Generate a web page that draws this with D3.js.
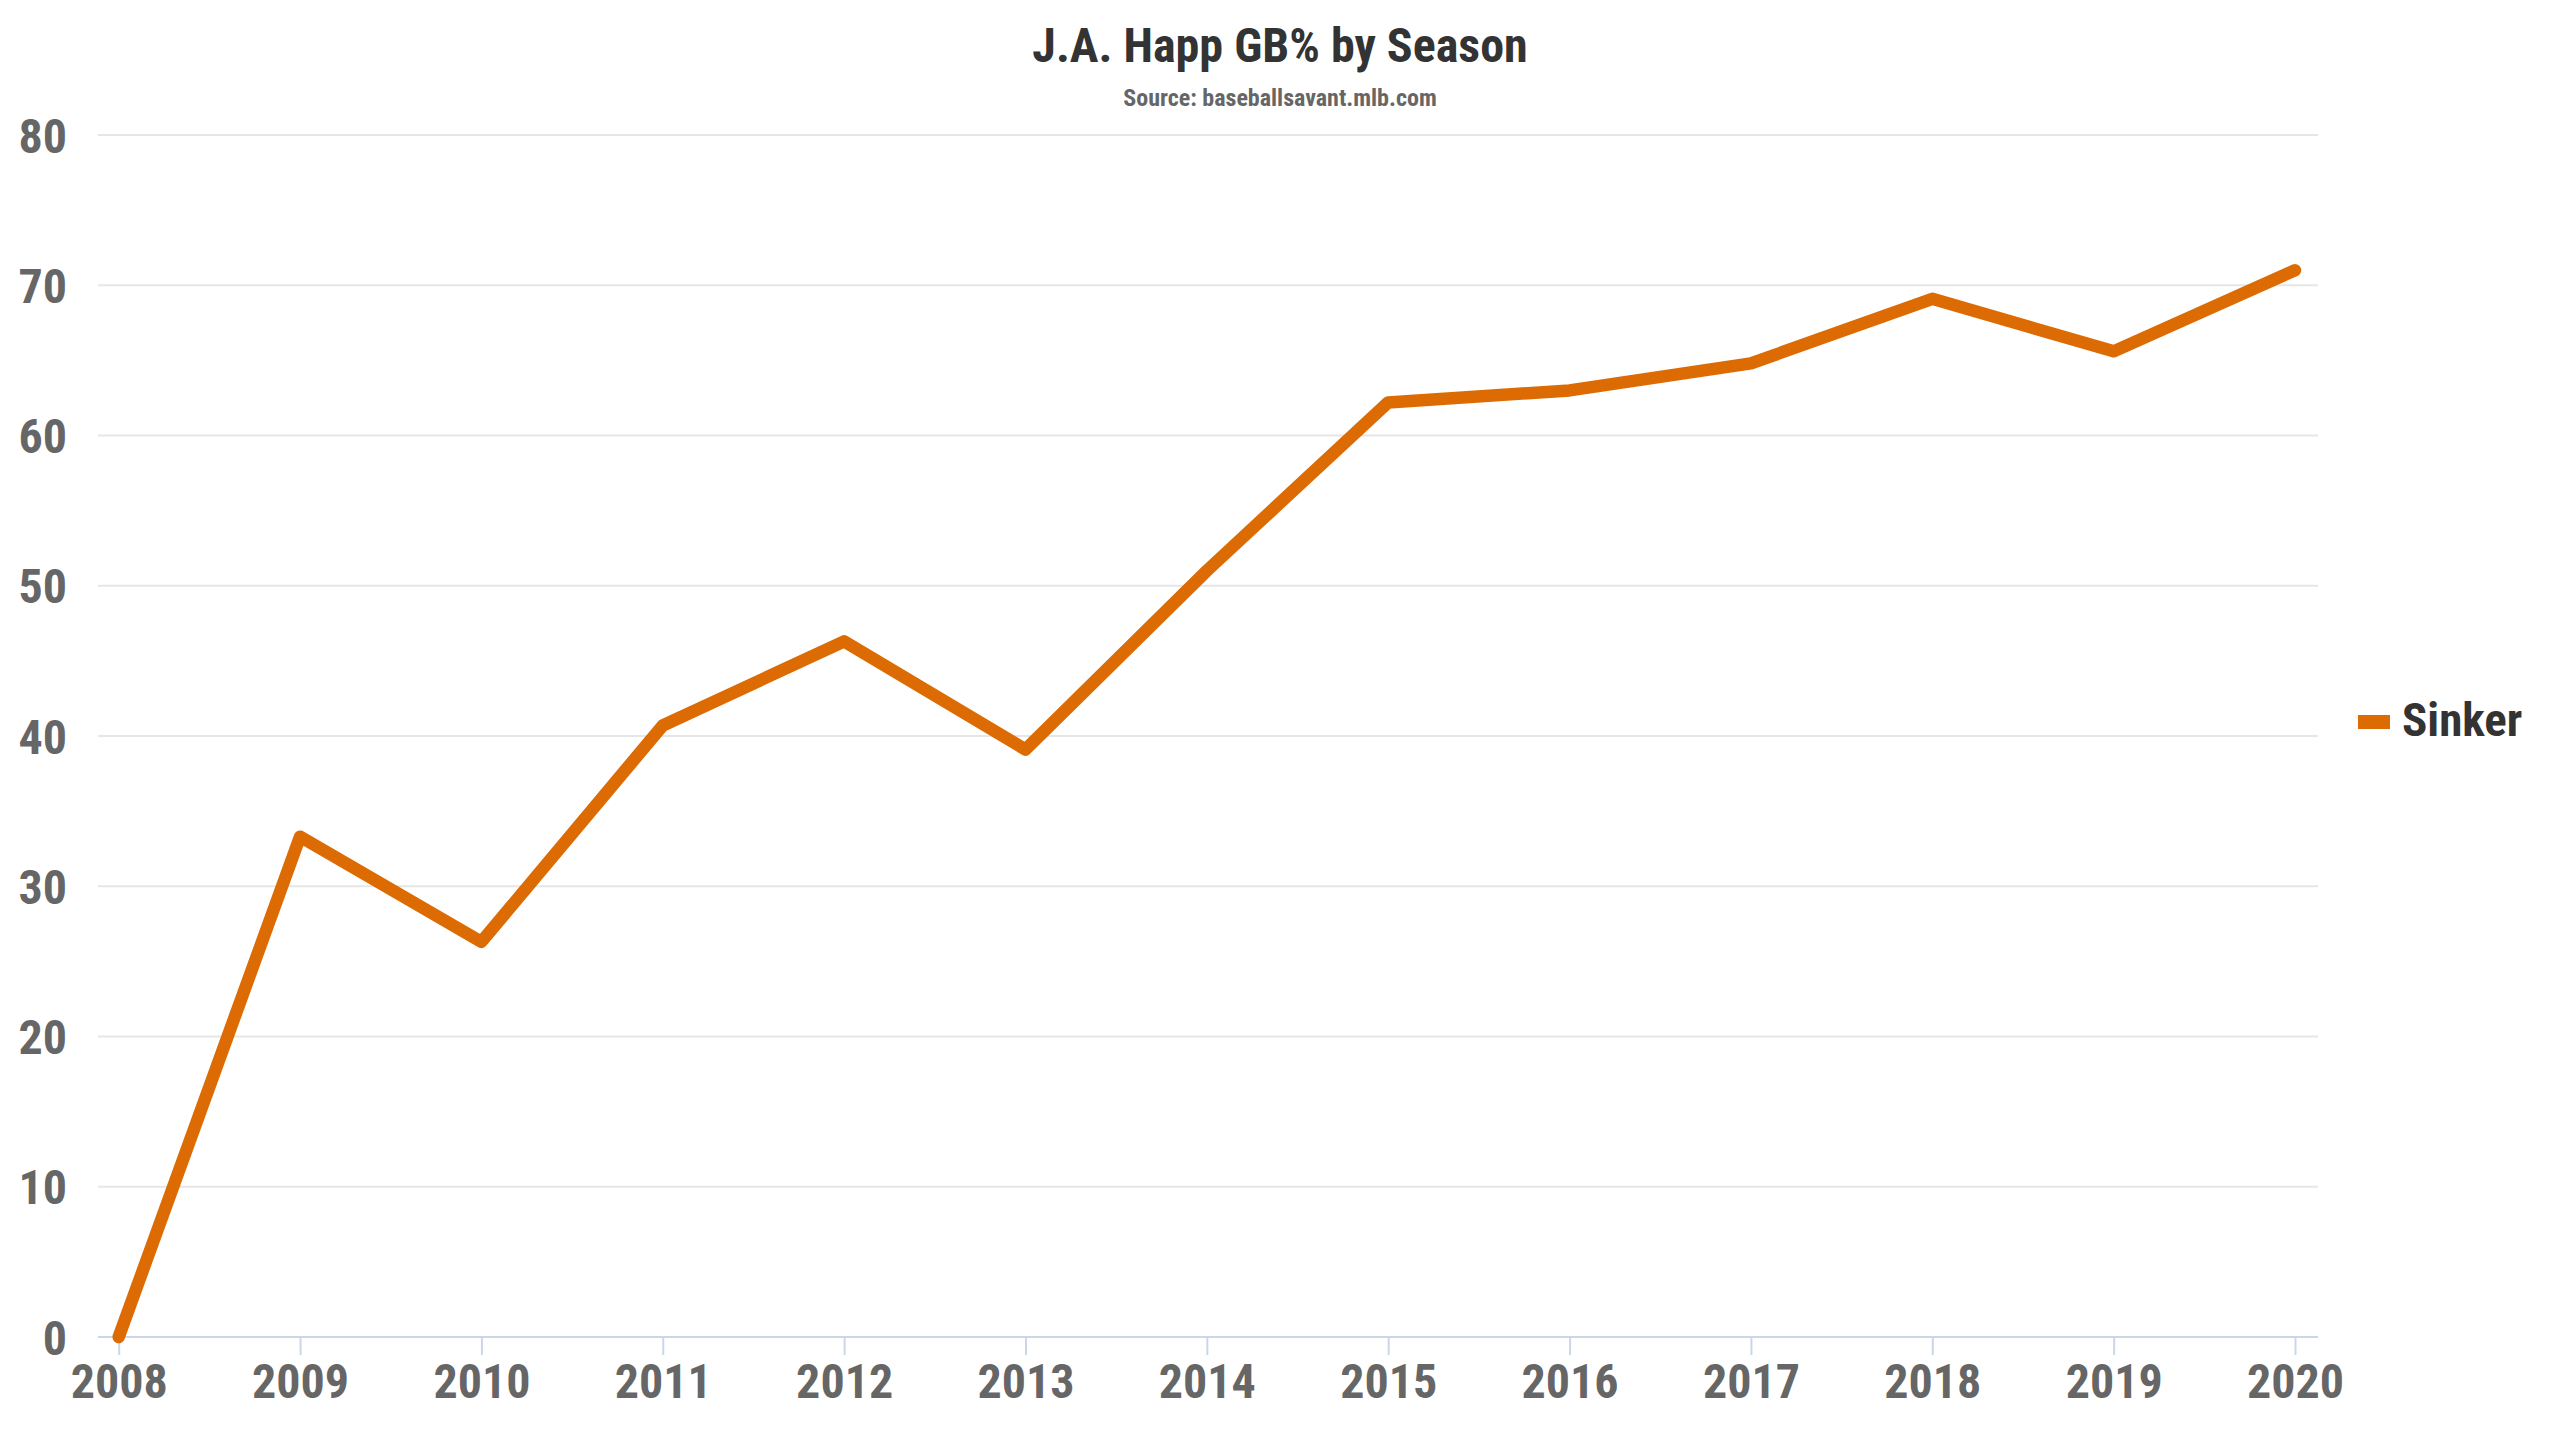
<!DOCTYPE html>
<html>
<head>
<meta charset="utf-8">
<script src="https://cdn.jsdelivr.net/npm/d3@7"></script>
<style>
  html, body { margin: 0; padding: 0; background: #ffffff; }
  svg { display: block; }
  text { font-family: "Roboto Condensed", "Roboto", sans-serif; font-weight: 700; }
</style>
</head>
<body>
<svg id="chart" width="2560" height="1440"></svg>
<script>
const seasons = [2008, 2009, 2010, 2011, 2012, 2013, 2014, 2015, 2016, 2017, 2018, 2019, 2020];
const sinkerGB = [0, 33.3, 26.3, 40.7, 46.3, 39.1, 51.0, 62.2, 63.0, 64.8, 69.1, 65.6, 71.0];
const yTicks = [0, 10, 20, 30, 40, 50, 60, 70, 80];
const seriesName = "Sinker";
const titleText = "J.A. Happ GB% by Season";
const subtitleText = "Source: baseballsavant.mlb.com";

const W = 2560, H = 1440;
const plotLeft = 98, plotRight = 2318, plotTop = 135, plotBottom = 1337;
const lineColor = "#dd6b03";

const svg = d3.select("#chart");
svg.append("rect").attr("width", W).attr("height", H).attr("fill", "#ffffff");

const x = d3.scaleLinear().domain([2008, 2020]).range([118.7, 2295]);
const y = d3.scaleLinear().domain([0, 80]).range([plotBottom, plotTop]);

// gridlines
svg.append("g")
  .selectAll("line")
  .data(yTicks.filter(d => d !== 0))
  .join("line")
  .attr("x1", plotLeft).attr("x2", plotRight)
  .attr("y1", d => y(d)).attr("y2", d => y(d))
  .attr("stroke", "#e6e6e6").attr("stroke-width", 2);

// y axis labels
const yAxis = d3.axisLeft(y).tickValues(yTicks).tickSize(0).tickPadding(0).tickFormat(d3.format("d"));
const yg = svg.append("g").attr("transform", `translate(67,0)`).call(yAxis);
yg.select(".domain").remove();
yg.selectAll("text")
  .attr("x", 0).attr("dy", "0.355em")
  .attr("fill", "#666666").style("font-size", "48px")
  .style("font-family", "'Roboto Condensed', Roboto, sans-serif").style("font-weight", 700);

// x axis
const xAxis = d3.axisBottom(x).tickValues(seasons).tickSize(18).tickPadding(0).tickFormat(d3.format("d"));
const xg = svg.append("g").attr("transform", `translate(0,${plotBottom})`).call(xAxis);
xg.select(".domain").remove();
xg.append("line").attr("x1", plotLeft).attr("x2", plotRight).attr("y1", 0).attr("y2", 0)
  .attr("stroke", "#ccd6eb").attr("stroke-width", 2);
xg.selectAll(".tick line").attr("stroke", "#ccd6eb").attr("stroke-width", 2);
xg.selectAll(".tick text")
  .attr("y", 61).attr("dy", 0)
  .attr("fill", "#666666").style("font-size", "48px")
  .style("font-family", "'Roboto Condensed', Roboto, sans-serif").style("font-weight", 700);

// series line
const line = d3.line().x((d, i) => x(seasons[i])).y(d => y(d));
svg.append("path")
  .datum(sinkerGB)
  .attr("d", line)
  .attr("fill", "none")
  .attr("stroke", lineColor)
  .attr("stroke-width", 12.5)
  .attr("stroke-linejoin", "round")
  .attr("stroke-linecap", "round");

// legend
const lg = svg.append("g");
lg.append("rect").attr("x", 2358).attr("y", 715).attr("width", 32).attr("height", 14).attr("fill", lineColor);
lg.append("text").attr("x", 2402).attr("y", 736).text(seriesName)
  .attr("fill", "#333333").style("font-size", "47px");

// title
svg.append("text").attr("x", W / 2).attr("y", 62).attr("text-anchor", "middle")
  .text(titleText).attr("fill", "#333333").style("font-size", "48px");
svg.append("text").attr("x", W / 2).attr("y", 106).attr("text-anchor", "middle")
  .text(subtitleText).attr("fill", "#666666").style("font-size", "24px");
</script>
</body>
</html>
